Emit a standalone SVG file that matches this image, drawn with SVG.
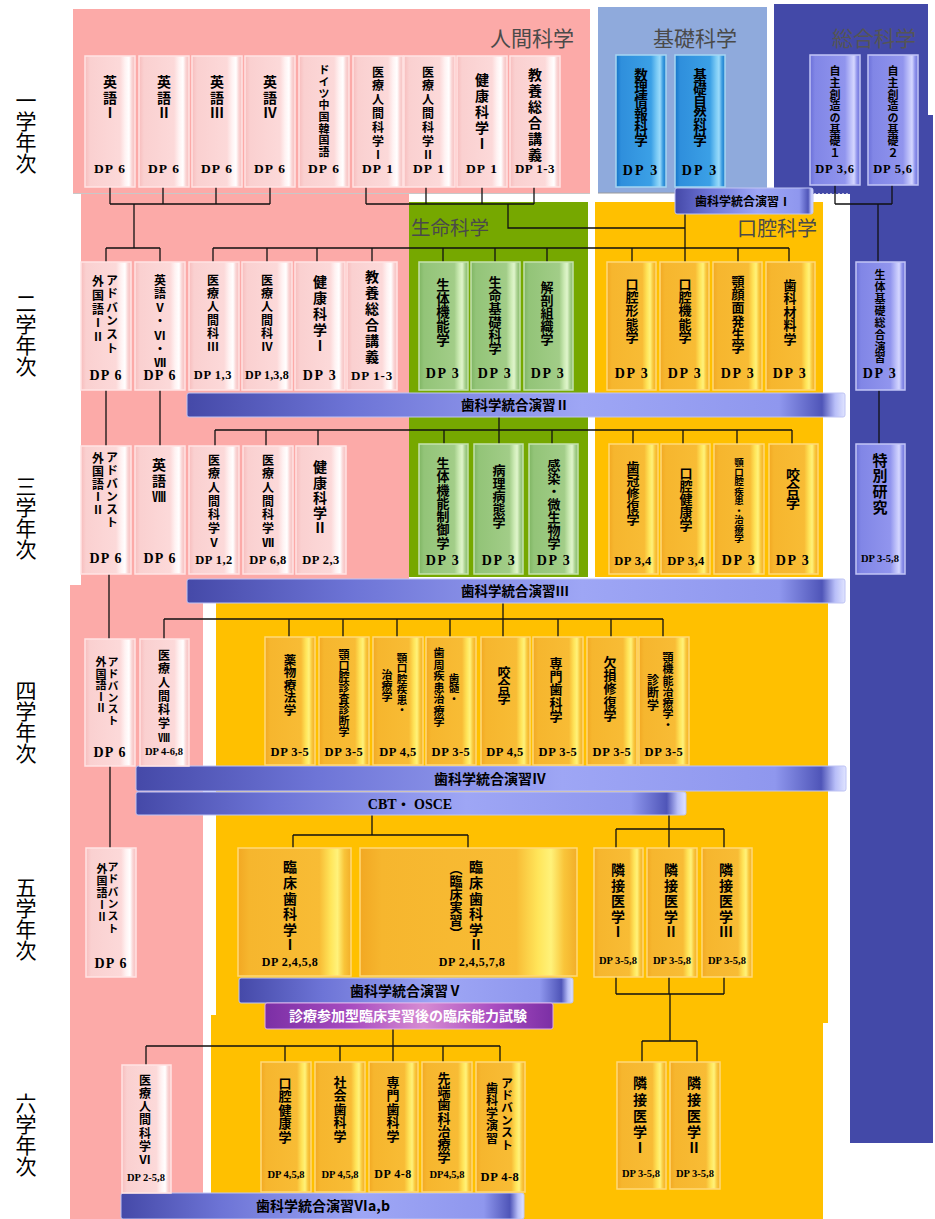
<svg xmlns="http://www.w3.org/2000/svg" width="935" height="1219" viewBox="0 0 935 1219">
<defs>
<linearGradient id="gPk" x1="0" y1="0" x2="1" y2="0"><stop offset="0" stop-color="#F7BDBD"/><stop offset="0.1" stop-color="#FAD0D0"/><stop offset="0.7" stop-color="#FCD9D9"/><stop offset="0.8" stop-color="#FFF2F2"/><stop offset="0.88" stop-color="#FFFFFF"/><stop offset="0.94" stop-color="#FAD2D2"/><stop offset="1" stop-color="#F6C0C0"/></linearGradient>
<linearGradient id="gOg" x1="0" y1="0" x2="1" y2="0"><stop offset="0" stop-color="#F2A823"/><stop offset="0.1" stop-color="#F6B62E"/><stop offset="0.72" stop-color="#F8BC35"/><stop offset="0.82" stop-color="#FFE55A"/><stop offset="0.88" stop-color="#FFF27A"/><stop offset="0.94" stop-color="#F9C53A"/><stop offset="1" stop-color="#F2AE28"/></linearGradient>
<linearGradient id="gGr" x1="0" y1="0" x2="1" y2="0"><stop offset="0" stop-color="#7FB563"/><stop offset="0.1" stop-color="#93C478"/><stop offset="0.72" stop-color="#A2CD88"/><stop offset="0.82" stop-color="#CDEBB5"/><stop offset="0.88" stop-color="#E0F5CC"/><stop offset="0.94" stop-color="#A8D08E"/><stop offset="1" stop-color="#86BA6A"/></linearGradient>
<linearGradient id="gBl" x1="0" y1="0" x2="1" y2="0"><stop offset="0" stop-color="#1473C8"/><stop offset="0.1" stop-color="#2F8FDC"/><stop offset="0.7" stop-color="#3BA0E6"/><stop offset="0.82" stop-color="#7CCBF5"/><stop offset="0.88" stop-color="#9ADAFA"/><stop offset="0.94" stop-color="#3A9BE0"/><stop offset="1" stop-color="#1C7AC8"/></linearGradient>
<linearGradient id="gLv" x1="0" y1="0" x2="1" y2="0"><stop offset="0" stop-color="#6A6FD8"/><stop offset="0.1" stop-color="#8186E6"/><stop offset="0.7" stop-color="#9195EE"/><stop offset="0.82" stop-color="#BFC2FA"/><stop offset="0.88" stop-color="#D5D7FF"/><stop offset="0.94" stop-color="#8F93EC"/><stop offset="1" stop-color="#6E72D8"/></linearGradient>
<linearGradient id="gBar" x1="0" y1="0" x2="1" y2="0"><stop offset="0" stop-color="#4549A8"/><stop offset="0.25" stop-color="#6D74D6"/><stop offset="0.6" stop-color="#9EA6F5"/><stop offset="0.9" stop-color="#8F97EE"/><stop offset="0.965" stop-color="#4F55B8"/><stop offset="0.985" stop-color="#B8BEF8"/><stop offset="1" stop-color="#E0E4FF"/></linearGradient>
<linearGradient id="gPu" x1="0" y1="0" x2="1" y2="0"><stop offset="0" stop-color="#7B2FA5"/><stop offset="0.3" stop-color="#A84CC0"/><stop offset="0.55" stop-color="#D68BD2"/><stop offset="0.8" stop-color="#A84CC0"/><stop offset="1" stop-color="#7B2FA5"/></linearGradient>
<style>
.pk{fill:url(#gPk);stroke:#FFE4E4;stroke-width:1.5}
.og{fill:url(#gOg);stroke:#FFD978;stroke-width:1.5}
.gr{fill:url(#gGr);stroke:#C5E2AE;stroke-width:1.5}
.bl{fill:url(#gBl);stroke:#A6D6F2;stroke-width:1.5}
.lv{fill:url(#gLv);stroke:#C2C5F6;stroke-width:1.5}
.bar{fill:url(#gBar);stroke:#BFC4F4;stroke-width:1}
.pu{fill:url(#gPu);stroke:#E0B0E8;stroke-width:1}
.v{writing-mode:vertical-rl;font-family:"Noto Sans CJK JP","Noto Sans CJK SC",sans-serif;font-weight:700;fill:#000}
.dp{font-family:"Liberation Serif","Noto Sans CJK JP",serif;font-weight:700;text-anchor:middle;fill:#000;font-size:13px;letter-spacing:1.2px}
.bt{font-family:"Noto Sans CJK JP","Noto Sans CJK SC",sans-serif;font-weight:700;text-anchor:middle;fill:#000}
.cat{font-family:"Noto Sans CJK JP","Noto Sans CJK SC",sans-serif;fill:#4a4a4a;text-anchor:middle}
.yr{writing-mode:vertical-rl;font-family:"Noto Sans CJK JP","Noto Sans CJK SC",sans-serif;font-size:21px;fill:#000}
.ln{fill:none;stroke:#111;stroke-width:1.3}
</style>
</defs>
<rect width="935" height="1219" fill="#FFFFFF"/>
<g id="regions">
<rect x="73" y="9" width="517" height="185" fill="#FCAAA8"/>
<rect x="81" y="194" width="328" height="391" fill="#FCAAA8"/>
<rect x="70" y="585" width="133" height="634" fill="#FCAAA8"/>
<line x1="73" y1="193.5" x2="590" y2="193.5" stroke="#C8C8C8"/>
<rect x="598" y="7" width="169" height="186" fill="#8FAADC"/>
<line x1="598" y1="193" x2="767" y2="193" stroke="#9A9A9A"/>
<rect x="774" y="4" width="154" height="190" fill="#4349A8"/>
<line x1="774" y1="193.5" x2="928" y2="193.5" stroke="#B8BAD8" stroke-dasharray="2 2"/>
<rect x="850" y="115" width="83" height="1028" fill="#4349A8"/>
<rect x="409" y="202" width="179" height="375" fill="#76A800"/>
<rect x="595" y="202" width="228" height="375" fill="#FFC000"/>
<rect x="216" y="600" width="612" height="423" fill="#FFC000"/>
<rect x="211" y="1015" width="612" height="204" fill="#FFC000"/>
</g>
<g id="labels">
<text class="cat" x="532" y="46" style="font-size:21px">人間科学</text>
<text class="cat" x="695" y="46" style="font-size:21px">基礎科学</text>
<text class="cat" x="874" y="46" style="font-size:21px;fill:#555">総合科学</text>
<text class="cat" x="450" y="235" style="font-size:19.5px">生命科学</text>
<text class="cat" x="777" y="236" style="font-size:20px">口腔科学</text>
<text class="yr" x="26" y="90">一学年次</text>
<text class="yr" x="26" y="293">二学年次</text>
<text class="yr" x="26" y="476">三学年次</text>
<text class="yr" x="26" y="680">四学年次</text>
<text class="yr" x="26" y="877">五学年次</text>
<text class="yr" x="26" y="1093">六学年次</text>
</g>
<g id="connectors" class="ln">
<path d="M110,187V204M163,187V204M216,187V204M270,187V204M110,204H270M134,204V248M106,248H160M106,248V262M160,248V262"/>
<path d="M366,187V204M426,187V204M482,187V204M534,187V204M366,204H534M508,204V228H685M685,214V262"/>
<path d="M835,185V204M892,185V204M835,204H892M878,204V262"/>
<path d="M213,248H789M213,248V262M267,248V262M317,248V262M372,248V262M443,248V262M495,248V262M547,248V262M632,248V262M738,248V262M789,248V262"/>
<path d="M106,390V446M160,390V446M499,417V444M215,430H792M215,430V446M266,430V446M318,430V446M444,430V444M552,430V444M633,430V444M683,430V444M737,430V444M792,430V444M879,390V444"/>
<path d="M109,574V639M503,603V637M164,619H663M164,619V639M289,619V637M343,619V637M397,619V637M450,619V637M558,619V637M611,619V637M663,619V637"/>
<path d="M110,766V848M372,815V835M293,835H468M293,835V848M468,835V848M669,815V848M616,829H724M616,829V848M724,829V848"/>
<path d="M616,977V994M669,977V994M724,977V994M616,994H724M670,994V1041M642,1041H697M642,1041V1062M697,1041V1062"/>
<path d="M393,1029V1062M146,1046H500M146,1046V1065M285,1046V1062M340,1046V1062M443,1046V1062M500,1046V1062"/>
</g>
<g id="bars">
<g id="bar1"><rect class="bar" x="675" y="188" width="138" height="26" rx="2"/><text class="bt" x="743" y="206" style="font-size:12px">歯科学統合演習Ⅰ</text></g>
<g id="bar2"><rect class="bar" x="187" y="393" width="658" height="24" rx="2"/><text class="bt" x="515" y="410" style="font-size:13.5px">歯科学統合演習Ⅱ</text></g>
<g id="bar3"><rect class="bar" x="187" y="579" width="658" height="24" rx="2"/><text class="bt" x="515" y="596" style="font-size:13.5px">歯科学統合演習Ⅲ</text></g>
<g id="bar4"><rect class="bar" x="136" y="766" width="710" height="25" rx="2"/><text class="bt" x="490" y="784" style="font-size:14px">歯科学統合演習Ⅳ</text></g>
<g id="bar-cbt"><rect class="bar" x="136" y="792" width="550" height="23" rx="2"/><text class="bt" x="410" y="809" style="font-size:14px;font-family:'Liberation Serif','Noto Sans CJK JP',serif">CBT・ OSCE</text></g>
<g id="bar5"><rect class="bar" x="239" y="978" width="334" height="25" rx="2"/><text class="bt" x="406" y="996" style="font-size:14px">歯科学統合演習Ⅴ</text></g>
<g id="bar-exam"><rect class="pu" x="265" y="1003" width="288" height="26" rx="2"/><text class="bt" x="408" y="1021" style="font-size:14px;fill:#FFFFFF">診療参加型臨床実習後の臨床能力試験</text></g>
<g id="bar6"><rect class="bar" x="121" y="1193" width="403" height="26" rx="2"/><text class="bt" x="323" y="1211" style="font-size:14px">歯科学統合演習Ⅵa,b</text></g>
</g>
<g id="year1">
<g id="n-eng1"><rect class="pk" x="85" y="56" width="50" height="131"/><text class="v" x="110" y="75" style="font-size:14px;letter-spacing:1.5px">英語Ⅰ</text><text class="dp" x="110" y="173" style="font-size:13.5px">DP 6</text></g>
<g id="n-eng2"><rect class="pk" x="139" y="56" width="50" height="131"/><text class="v" x="164" y="75" style="font-size:14px;letter-spacing:1.5px">英語Ⅱ</text><text class="dp" x="164" y="173" style="font-size:13.5px">DP 6</text></g>
<g id="n-eng3"><rect class="pk" x="192" y="56" width="50" height="131"/><text class="v" x="217" y="75" style="font-size:14px;letter-spacing:1.5px">英語Ⅲ</text><text class="dp" x="217" y="173" style="font-size:13.5px">DP 6</text></g>
<g id="n-eng4"><rect class="pk" x="245" y="56" width="50" height="131"/><text class="v" x="270" y="75" style="font-size:14px;letter-spacing:1.5px">英語Ⅳ</text><text class="dp" x="270" y="173" style="font-size:13.5px">DP 6</text></g>
<g id="n-lang"><rect class="pk" x="299" y="56" width="50" height="131"/><text class="v" x="324" y="64.5" style="font-size:11px;letter-spacing:0.7px">ドイツ中国韓国語</text><text class="dp" x="324" y="173" style="font-size:13.5px">DP 6</text></g>
<g id="n-med1"><rect class="pk" x="353" y="56" width="50" height="131"/><text class="v" x="378" y="66" style="font-size:12px;letter-spacing:1.8px">医療人間科学Ⅰ</text><text class="dp" x="378" y="173" style="font-size:13.5px">DP 1</text></g>
<g id="n-med2"><rect class="pk" x="404" y="56" width="51" height="131"/><text class="v" x="428" y="66" style="font-size:12px;letter-spacing:1.8px">医療人間科学Ⅱ</text><text class="dp" x="429" y="173" style="font-size:13.5px">DP 1</text></g>
<g id="n-health1"><rect class="pk" x="457" y="56" width="50" height="131"/><text class="v" x="482" y="73" style="font-size:14px;letter-spacing:2px">健康科学Ⅰ</text><text class="dp" x="482" y="173" style="font-size:13.5px">DP 1</text></g>
<g id="n-lib1"><rect class="pk" x="510" y="56" width="50" height="131"/><text class="v" x="535" y="68" style="font-size:14px;letter-spacing:2px">教養総合講義</text><text class="dp" x="535" y="173" style="letter-spacing:0.5px">DP 1-3</text></g>
<g id="n-info"><rect class="bl" x="616" y="55" width="50" height="132"/><text class="v" x="641" y="68" style="font-size:13.5px;letter-spacing:-0.5px">数理情報科学</text><text class="dp" x="641" y="175" style="font-size:14px;letter-spacing:2px">DP 3</text></g>
<g id="n-natsci"><rect class="bl" x="675" y="55" width="50" height="132"/><text class="v" x="700" y="68" style="font-size:13.5px;letter-spacing:-0.5px">基礎自然科学</text><text class="dp" x="700" y="175" style="font-size:14px;letter-spacing:2px">DP 3</text></g>
<g id="n-jishu1"><rect class="lv" x="810" y="55" width="50" height="130"/><text class="v" x="835" y="65.5" style="font-size:11px;letter-spacing:0.7px">自主創造の基礎１</text><text class="dp" x="835" y="173" style="font-size:12.5px;letter-spacing:0.8px">DP 3,6</text></g>
<g id="n-jishu2"><rect class="lv" x="868" y="55" width="50" height="130"/><text class="v" x="893" y="65.5" style="font-size:11px;letter-spacing:0.7px">自主創造の基礎２</text><text class="dp" x="893" y="173" style="font-size:12.5px;letter-spacing:0.8px">DP 5,6</text></g>
</g>
<g id="year2">
<g id="n-adv2"><rect class="pk" x="81" y="262" width="50" height="128"/><text class="v" x="112" y="274" style="font-size:12px;letter-spacing:1.6px">アドバンスト</text><text class="v" x="98" y="275" style="font-size:12px;letter-spacing:2px">外国語ⅠⅡ</text><text class="dp" x="106" y="380" style="font-size:14px">DP 6</text></g>
<g id="n-eng567"><rect class="pk" x="135" y="262" width="50" height="128"/><text class="v" x="160" y="274" style="font-size:12px;letter-spacing:1.8px">英語Ⅴ・Ⅵ・Ⅶ</text><text class="dp" x="160" y="380" style="font-size:14px">DP 6</text></g>
<g id="n-med3"><rect class="pk" x="189" y="262" width="50" height="128"/><text class="v" x="213" y="274" style="font-size:12px;letter-spacing:1.4px">医療人間科Ⅲ</text><text class="dp" x="213" y="379" style="font-size:12.5px;letter-spacing:0.6px">DP 1,3</text></g>
<g id="n-med4"><rect class="pk" x="242" y="262" width="50" height="128"/><text class="v" x="267" y="274" style="font-size:12px;letter-spacing:1.4px">医療人間科Ⅳ</text><text class="dp" x="267" y="379" style="font-size:12px;letter-spacing:0.2px">DP 1,3,8</text></g>
<g id="n-health1b"><rect class="pk" x="295" y="262" width="50" height="128"/><text class="v" x="320" y="275" style="font-size:14px;letter-spacing:2px">健康科学Ⅰ</text><text class="dp" x="320" y="380" style="font-size:14px;letter-spacing:1.5px">DP 3</text></g>
<g id="n-lib2"><rect class="pk" x="347" y="262" width="50" height="128"/><text class="v" x="372" y="270" style="font-size:14px;letter-spacing:2px">教養総合講義</text><text class="dp" x="372" y="380" style="letter-spacing:0.8px">DP 1-3</text></g>
<g id="n-physio"><rect class="gr" x="419" y="262" width="49" height="128"/><text class="v" x="443" y="278" style="font-size:13.5px;letter-spacing:0.25px">生体機能学</text><text class="dp" x="443" y="378" style="font-size:14px;letter-spacing:1.5px">DP 3</text></g>
<g id="n-lifesci"><rect class="gr" x="471" y="262" width="49" height="128"/><text class="v" x="495" y="275.5" style="font-size:13px;letter-spacing:0.2px">生命基礎科学</text><text class="dp" x="495" y="378" style="font-size:14px;letter-spacing:1.5px">DP 3</text></g>
<g id="n-anat"><rect class="gr" x="524" y="262" width="49" height="128"/><text class="v" x="547" y="280.5" style="font-size:13px">解剖組織学</text><text class="dp" x="548" y="378" style="font-size:14px;letter-spacing:1.5px">DP 3</text></g>
<g id="n-oralmorph"><rect class="og" x="607" y="262" width="49" height="128"/><text class="v" x="632" y="277.5" style="font-size:13px;letter-spacing:0.25px">口腔形態学</text><text class="dp" x="632" y="378" style="font-size:14px;letter-spacing:1.5px">DP 3</text></g>
<g id="n-oralfunc"><rect class="og" x="660" y="262" width="49" height="128"/><text class="v" x="685" y="277.5" style="font-size:13px;letter-spacing:0.25px">口腔機能学</text><text class="dp" x="685" y="378" style="font-size:14px;letter-spacing:1.5px">DP 3</text></g>
<g id="n-cranio"><rect class="og" x="713" y="262" width="49" height="128"/><text class="v" x="738" y="274.5" style="font-size:13px;letter-spacing:0.2px">顎顔面発生学</text><text class="dp" x="738" y="378" style="font-size:14px;letter-spacing:1.5px">DP 3</text></g>
<g id="n-material"><rect class="og" x="766" y="262" width="49" height="128"/><text class="v" x="790" y="278.5" style="font-size:13px;letter-spacing:0.5px">歯科材料学</text><text class="dp" x="790" y="378" style="font-size:14px;letter-spacing:1.5px">DP 3</text></g>
<g id="n-bioint"><rect class="lv" x="856" y="262" width="49" height="128"/><text class="v" x="880" y="269.5" style="font-size:11px;letter-spacing:0.9px">生体基礎総合演習</text><text class="dp" x="880" y="378" style="font-size:14px;letter-spacing:1.5px">DP 3</text></g>
</g>
<g id="year3">
<g id="n-adv3"><rect class="pk" x="81" y="446" width="50" height="128"/><text class="v" x="112" y="451" style="font-size:12px;letter-spacing:1px">アドバンスト</text><text class="v" x="98" y="452" style="font-size:12px;letter-spacing:1px">外国語ⅠⅡ</text><text class="dp" x="106" y="563" style="font-size:14px">DP 6</text></g>
<g id="n-eng8"><rect class="pk" x="135" y="446" width="50" height="128"/><text class="v" x="159" y="458" style="font-size:14px;letter-spacing:2px">英語Ⅷ</text><text class="dp" x="160" y="563" style="font-size:14px">DP 6</text></g>
<g id="n-med5"><rect class="pk" x="189" y="446" width="50" height="128"/><text class="v" x="214" y="454" style="font-size:12px;letter-spacing:1.7px">医療人間科学Ⅴ</text><text class="dp" x="214" y="564" style="font-size:12.5px;letter-spacing:0.5px">DP 1,2</text></g>
<g id="n-med7"><rect class="pk" x="243" y="446" width="50" height="128"/><text class="v" x="268" y="454" style="font-size:12px;letter-spacing:1.7px">医療人間科学Ⅶ</text><text class="dp" x="268" y="564" style="font-size:12.5px;letter-spacing:0.5px">DP 6,8</text></g>
<g id="n-health2"><rect class="pk" x="296" y="446" width="50" height="128"/><text class="v" x="320" y="460" style="font-size:14px;letter-spacing:1.25px">健康科学Ⅱ</text><text class="dp" x="321" y="564" style="font-size:12.5px;letter-spacing:0.5px">DP 2,3</text></g>
<g id="n-physctl"><rect class="gr" x="419" y="444" width="49" height="130"/><text class="v" x="443" y="456.5" style="font-size:13px;letter-spacing:0.3px">生体機能制御学</text><text class="dp" x="443" y="565" style="font-size:14px;letter-spacing:1.5px">DP 3</text></g>
<g id="n-patho"><rect class="gr" x="474" y="444" width="49" height="130"/><text class="v" x="499" y="463.5" style="font-size:13px">病理病態学</text><text class="dp" x="499" y="565" style="font-size:14px;letter-spacing:1.5px">DP 3</text></g>
<g id="n-micro"><rect class="gr" x="529" y="444" width="49" height="130"/><text class="v" x="554" y="458.5" style="font-size:13px">感染・微生物学</text><text class="dp" x="554" y="565" style="font-size:14px;letter-spacing:1.5px">DP 3</text></g>
<g id="n-crown"><rect class="og" x="609" y="444" width="49" height="130"/><text class="v" x="633" y="460.5" style="font-size:13px">歯冠修復学</text><text class="dp" x="633" y="565" style="font-size:12.5px;letter-spacing:0.5px">DP 3,4</text></g>
<g id="n-oralhealth"><rect class="og" x="661" y="444" width="49" height="130"/><text class="v" x="686" y="466.5" style="font-size:13px">口腔健康学</text><text class="dp" x="686" y="565" style="font-size:12.5px;letter-spacing:0.5px">DP 3,4</text></g>
<g id="n-oraldis3"><rect class="og" x="714" y="444" width="50" height="130"/><text class="v" x="739" y="458" style="font-size:9.5px">顎口腔疾患・治療学</text><text class="dp" x="739" y="565" style="font-size:14px;letter-spacing:1.5px">DP 3</text></g>
<g id="n-occl3"><rect class="og" x="769" y="444" width="49" height="130"/><text class="v" x="793" y="468" style="font-size:14px">咬合学</text><text class="dp" x="793" y="565" style="font-size:14px;letter-spacing:1.5px">DP 3</text></g>
<g id="n-research"><rect class="lv" x="856" y="444" width="49" height="130"/><text class="v" x="880" y="452.5" style="font-size:15px;letter-spacing:0.7px">特別研究</text><text class="dp" x="880" y="562" style="font-size:10.5px;letter-spacing:0px">DP 3-5,8</text></g>
</g>
<g id="year4">
<g id="n-adv4"><rect class="pk" x="85" y="639" width="50" height="127"/><text class="v" x="113" y="656.5" style="font-size:11px;letter-spacing:0.8px">アドバンスト</text><text class="v" x="101" y="656.5" style="font-size:11px;letter-spacing:0.5px">外国語ⅠⅡ</text><text class="dp" x="110" y="757" style="font-size:14px">DP 6</text></g>
<g id="n-med8"><rect class="pk" x="140" y="639" width="49" height="127"/><text class="v" x="164" y="649" style="font-size:12px;letter-spacing:1.7px">医療人間科学Ⅷ</text><text class="dp" x="164" y="755" style="font-size:10.5px;letter-spacing:0px">DP 4-6,8</text></g>
<g id="n-pharm"><rect class="og" x="265" y="637" width="50" height="128"/><text class="v" x="290" y="653.75" style="font-size:12.5px">薬物療法学</text><text class="dp" x="290" y="755.5" style="font-size:12.5px;letter-spacing:0.5px">DP 3-5</text></g>
<g id="n-diag"><rect class="og" x="319" y="637" width="50" height="128"/><text class="v" x="344" y="649.5" style="font-size:11px">顎口腔診査診断学</text><text class="dp" x="344" y="755.5" style="font-size:12.5px;letter-spacing:0.5px">DP 3-5</text></g>
<g id="n-oraldis4"><rect class="og" x="373" y="637" width="50" height="128"/><text class="v" x="402" y="652.75" style="font-size:10.5px">顎口腔疾患・</text><text class="v" x="387" y="669.5" style="font-size:11px">治療学</text><text class="dp" x="398" y="755.5" style="font-size:12.5px;letter-spacing:0.5px">DP 4,5</text></g>
<g id="n-perio"><rect class="og" x="426" y="637" width="50" height="128"/><text class="v" x="454" y="672.75" style="font-size:10.5px">歯髄・</text><text class="v" x="439" y="647.5" style="font-size:11px;letter-spacing:0.5px">歯周疾患治療学</text><text class="dp" x="451" y="755.5" style="font-size:12.5px;letter-spacing:0.5px">DP 3-5</text></g>
<g id="n-occl4"><rect class="og" x="481" y="637" width="49" height="128"/><text class="v" x="504" y="665.5" style="font-size:13px">咬合学</text><text class="dp" x="505" y="755.5" style="font-size:12.5px;letter-spacing:0.5px">DP 4,5</text></g>
<g id="n-spec4"><rect class="og" x="533" y="637" width="50" height="128"/><text class="v" x="556" y="656.5" style="font-size:13px;letter-spacing:0.25px">専門歯科学</text><text class="dp" x="558" y="755.5" style="font-size:12.5px;letter-spacing:0.5px">DP 3-5</text></g>
<g id="n-prosth"><rect class="og" x="587" y="637" width="50" height="128"/><text class="v" x="610" y="655.5" style="font-size:13px;letter-spacing:0.25px">欠損修復学</text><text class="dp" x="612" y="755.5" style="font-size:12.5px;letter-spacing:0.5px">DP 3-5</text></g>
<g id="n-tmj"><rect class="og" x="639" y="637" width="50" height="128"/><text class="v" x="668" y="652.5" style="font-size:11px;letter-spacing:0.2px">顎機能治療学・</text><text class="v" x="653" y="674" style="font-size:12px;letter-spacing:0.5px">診断学</text><text class="dp" x="664" y="755.5" style="font-size:12.5px;letter-spacing:0.5px">DP 3-5</text></g>
</g>
<g id="year5">
<g id="n-adv5"><rect class="pk" x="86" y="848" width="50" height="129"/><text class="v" x="113" y="861.5" style="font-size:11px;letter-spacing:1.3px">アドバンスト</text><text class="v" x="102" y="863.5" style="font-size:11px;letter-spacing:1px">外国語ⅠⅡ</text><text class="dp" x="111" y="968" style="font-size:14px">DP 6</text></g>
<g id="n-clin1"><rect class="og" x="238" y="848" width="113" height="128"/><text class="v" x="290" y="860" style="font-size:14px;letter-spacing:1.6px">臨床歯科学Ⅰ</text><text class="dp" x="290" y="966" style="font-size:12px;letter-spacing:0.5px">DP 2,4,5,8</text></g>
<g id="n-clin2"><rect class="og" x="360" y="848" width="217" height="128"/><text class="v" x="476" y="860" style="font-size:14px;letter-spacing:1.6px">臨床歯科学Ⅱ</text><text class="v" x="456" y="862" style="font-size:13px">（臨床実習）</text><text class="dp" x="472" y="966" style="font-size:12px;letter-spacing:0.5px">DP 2,4,5,7,8</text></g>
<g id="n-adj1"><rect class="og" x="594" y="848" width="49" height="129"/><text class="v" x="618" y="863" style="font-size:14px;letter-spacing:1.5px">隣接医学Ⅰ</text><text class="dp" x="618" y="964" style="font-size:10.5px;letter-spacing:0px">DP 3-5,8</text></g>
<g id="n-adj2"><rect class="og" x="647" y="848" width="50" height="129"/><text class="v" x="671" y="863" style="font-size:14px;letter-spacing:1.5px">隣接医学Ⅱ</text><text class="dp" x="672" y="964" style="font-size:10.5px;letter-spacing:0px">DP 3-5,8</text></g>
<g id="n-adj3"><rect class="og" x="702" y="848" width="50" height="129"/><text class="v" x="726" y="863" style="font-size:14px;letter-spacing:1.5px">隣接医学Ⅲ</text><text class="dp" x="727" y="964" style="font-size:10.5px;letter-spacing:0px">DP 3-5,8</text></g>
</g>
<g id="year6">
<g id="n-med6"><rect class="pk" x="122" y="1065" width="49" height="128"/><text class="v" x="145" y="1074" style="font-size:12px;letter-spacing:1.3px">医療人間科学Ⅵ</text><text class="dp" x="146" y="1181" style="font-size:10.5px;letter-spacing:0px">DP 2-5,8</text></g>
<g id="n-oralhealth6"><rect class="og" x="261" y="1062" width="50" height="130"/><text class="v" x="285" y="1076.5" style="font-size:13px;letter-spacing:0.5px">口腔健康学</text><text class="dp" x="286" y="1178" style="font-size:10.5px;letter-spacing:0px">DP 4,5,8</text></g>
<g id="n-social"><rect class="og" x="315" y="1062" width="50" height="130"/><text class="v" x="340" y="1075.5" style="font-size:13px;letter-spacing:0.5px">社会歯科学</text><text class="dp" x="340" y="1178" style="font-size:10.5px;letter-spacing:0px">DP 4,5,8</text></g>
<g id="n-spec6"><rect class="og" x="369" y="1062" width="49" height="130"/><text class="v" x="393" y="1075.5" style="font-size:13px;letter-spacing:0.5px">専門歯科学</text><text class="dp" x="393" y="1178" style="font-size:12px;letter-spacing:0.5px">DP 4-8</text></g>
<g id="n-adv-treat"><rect class="og" x="422" y="1062" width="50" height="130"/><text class="v" x="444" y="1071.5" style="font-size:13px;letter-spacing:0.2px">先端歯科治療学</text><text class="dp" x="447" y="1178" style="font-size:10.5px;letter-spacing:0px">DP4,5,8</text></g>
<g id="n-adv-sem"><rect class="og" x="476" y="1062" width="49" height="130"/><text class="v" x="507" y="1077" style="font-size:12px;letter-spacing:0.4px">アドバンスト</text><text class="v" x="492" y="1082" style="font-size:12px;letter-spacing:0.5px">歯科学演習</text><text class="dp" x="500" y="1181" style="font-size:12.5px;letter-spacing:0.5px">DP 4-8</text></g>
<g id="n-adj6-1"><rect class="og" x="617" y="1062" width="49" height="127"/><text class="v" x="640" y="1076" style="font-size:14px;letter-spacing:2.25px">隣接医学Ⅰ</text><text class="dp" x="641" y="1177" style="font-size:10.5px;letter-spacing:0px">DP 3-5,8</text></g>
<g id="n-adj6-2"><rect class="og" x="670" y="1062" width="50" height="127"/><text class="v" x="694" y="1076" style="font-size:14px;letter-spacing:2.25px">隣接医学Ⅱ</text><text class="dp" x="695" y="1177" style="font-size:10.5px;letter-spacing:0px">DP 3-5,8</text></g>
</g>
</svg>
